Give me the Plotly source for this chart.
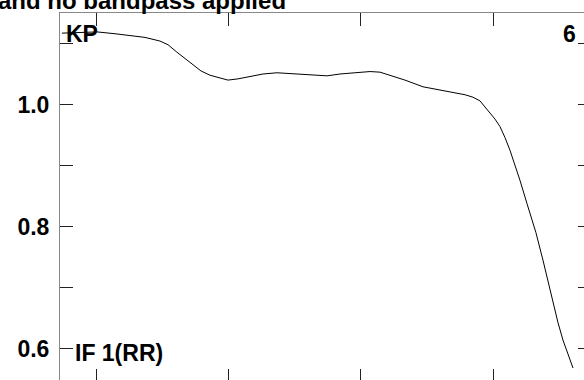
import plotly.graph_objects as go

# Channel numbers and normalized amplitude
channels = [74.3, 87.9, 100.8, 114.4, 123.4, 137.0, 148.3, 154.4, 161.0, 167.2,
            173.3, 179.3, 186.1, 193.7, 199.7, 207.2, 216.3, 226.1, 236.7, 248.0,
            259.4, 274.5, 284.3, 295.6, 307.0, 314.5, 322.1, 333.4, 347.0, 359.8,
            371.1, 378.7, 384.7, 390.0, 397.6, 401.4, 405.1, 408.9, 412.7, 416.5,
            420.2, 425.5, 429.3, 432.3, 437.6, 441.4, 445.2, 448.9, 452.7, 456.5,
            460.3]
amplitude = [1.117, 1.118, 1.119, 1.116, 1.114, 1.110, 1.104, 1.098, 1.086, 1.076,
             1.065, 1.055, 1.048, 1.043, 1.040, 1.042, 1.046, 1.050, 1.052, 1.051,
             1.049, 1.047, 1.050, 1.052, 1.054, 1.053, 1.048, 1.040, 1.029, 1.024,
             1.020, 1.016, 1.012, 1.006, 0.986, 0.976, 0.964, 0.946, 0.925, 0.901,
             0.876, 0.838, 0.811, 0.790, 0.745, 0.710, 0.674, 0.643, 0.614, 0.590,
             0.568]

x_ticks = [100, 200, 300, 400]
y_ticks = [0.6, 0.7, 0.8, 0.9, 1.0, 1.1]
y_labels = ["0.6", "", "0.8", "", "1.0", ""]

title_text = "and no bandpass applied"
label_source = "KP"
label_right = "6"
label_if = "IF 1(RR)"

X_RANGE = [72.81, 473.9]
Y_RANGE = [0.5451, 1.150]

FONT = dict(family="Liberation Sans, Arial, sans-serif", color="black")

fig = go.Figure()
fig.add_trace(go.Scatter(x=channels, y=amplitude, mode="lines",
                         line=dict(color="black", width=1), showlegend=False))

fig.update_layout(
    width=600, height=400,
    margin=dict(l=60, r=9, t=13, b=18, pad=0),
    paper_bgcolor="white", plot_bgcolor="white",
    xaxis=dict(range=X_RANGE, tickvals=x_ticks, ticks="inside", ticklen=13,
               tickcolor="#222", showticklabels=False, showline=True,
               linecolor="#888", linewidth=1, mirror="ticks",
               showgrid=False, zeroline=False),
    yaxis=dict(range=Y_RANGE, tickvals=y_ticks, ticktext=y_labels,
               ticks="inside", ticklen=13, tickcolor="#222",
               showline=True, linecolor="#888", linewidth=1, mirror="ticks",
               showgrid=False, zeroline=False, ticklabelstandoff=5,
               tickfont=dict(size=23, weight="bold", **FONT)),
)

def ann(text, x, y, xanchor, yanchor="middle", size=23):
    fig.add_annotation(text=text, x=x, y=y, xref="paper", yref="paper",
                       xanchor=xanchor, yanchor=yanchor, showarrow=False,
                       font=dict(size=size, weight="bold", **FONT))

ann(label_source, 0.0075, 0.9444, "left")
ann(label_right, 0.9755, 0.9444, "right")
ann(label_if, 0.0245, 0.0786, "left")
ann(title_text, 0.4294, 0.992, "right", yanchor="bottom", size=24)

fig.write_html(
    "out.html",
    config={"displayModeBar": False},
    post_script=("document.body.style.margin='0';"
                 "document.body.style.overflow='hidden';"
                 "document.documentElement.style.overflow='hidden';"),
)
